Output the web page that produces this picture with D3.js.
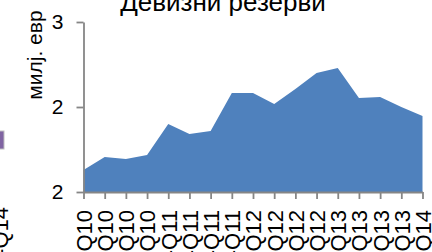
<!DOCTYPE html>
<html><head><meta charset="utf-8">
<script src="https://cdn.jsdelivr.net/npm/d3@7"></script>
<style>body{margin:0;background:#fff}svg{display:block}</style>
</head><body>
<svg id="c" width="432" height="252"></svg>
<script>
const categories = ["1-Q10","2-Q10","3-Q10","4-Q10","1-Q11","2-Q11","3-Q11","4-Q11","1-Q12","2-Q12","3-Q12","4-Q12","1-Q13","2-Q13","3-Q13","4-Q13","1-Q14"];
const reserves = [1.629,1.706,1.694,1.718,1.900,1.841,1.859,2.082,2.082,2.018,2.106,2.200,2.229,2.053,2.059,2.000,1.947];
const yTicks = [1.5, 2.0, 2.5];
const yTickLabels = ["2","2","3"];
const titleText = "Девизни резерви";
const yTitleText = "милј. евр";
const neighbourLabel = "1-Q14";

const font = "'Liberation Sans', Arial, sans-serif";
const svg = d3.select("#c");
const x = d3.scalePoint().domain(categories).range([83.5, 422.5]);
const y = d3.scaleLinear().domain([1.5, 2.5]).range([192, 22]);

// neighbouring chart fragment at left edge
svg.append("rect").attr("x", -8).attr("y", 131).attr("width", 12).attr("height", 18)
  .attr("fill", "#8064A2").attr("stroke", "#bfbfbf").attr("stroke-width", 1);
svg.append("text").attr("transform", "translate(8,207) rotate(-90)")
  .attr("text-anchor", "end").attr("font-family", font).attr("font-size", 22)
  .attr("fill", "#000").text(neighbourLabel);

// area
const area = d3.area().x((d, i) => x(categories[i])).y0(y(1.5)).y1(d => y(d));
svg.append("path").datum(reserves).attr("d", area).attr("fill", "#4F81BD");

// y axis
const yAxis = d3.axisLeft(y).tickValues(yTicks).tickSize(7).tickSizeOuter(0)
  .tickFormat((d, i) => yTickLabels[i]);
const gy = svg.append("g").attr("transform", "translate(83.5,0)").call(yAxis);
gy.select(".domain").attr("stroke", "#868686").attr("stroke-width", 1.8);
gy.selectAll(".tick line").attr("stroke", "#868686").attr("stroke-width", 1.8);
gy.selectAll(".tick text").attr("font-family", font).attr("font-size", 21)
  .attr("fill", "#000").attr("x", -20);

// x axis
const xAxis = d3.axisBottom(x).tickSize(7).tickSizeOuter(0);
const gx = svg.append("g").attr("transform", "translate(0,192)").call(xAxis);
gx.select(".domain").attr("stroke", "#868686").attr("stroke-width", 1.8);
gx.selectAll(".tick line").attr("stroke", "#868686").attr("stroke-width", 1.8);
gx.selectAll(".tick text").attr("font-family", font).attr("font-size", 22)
  .attr("fill", "#000").attr("transform", "rotate(-90)")
  .attr("text-anchor", "end").attr("x", -18).attr("y", 0).attr("dy", "0.36em");

// y title
svg.append("text").attr("transform", "translate(42,55) rotate(-90)")
  .attr("text-anchor", "middle").attr("font-family", font).attr("font-size", 21)
  .attr("fill", "#000").text(yTitleText);

// chart title
svg.append("text").attr("x", 223).attr("y", 11).attr("text-anchor", "middle")
  .attr("font-family", font).attr("font-size", 26).attr("fill", "#000").text(titleText);
</script>
</body></html>
